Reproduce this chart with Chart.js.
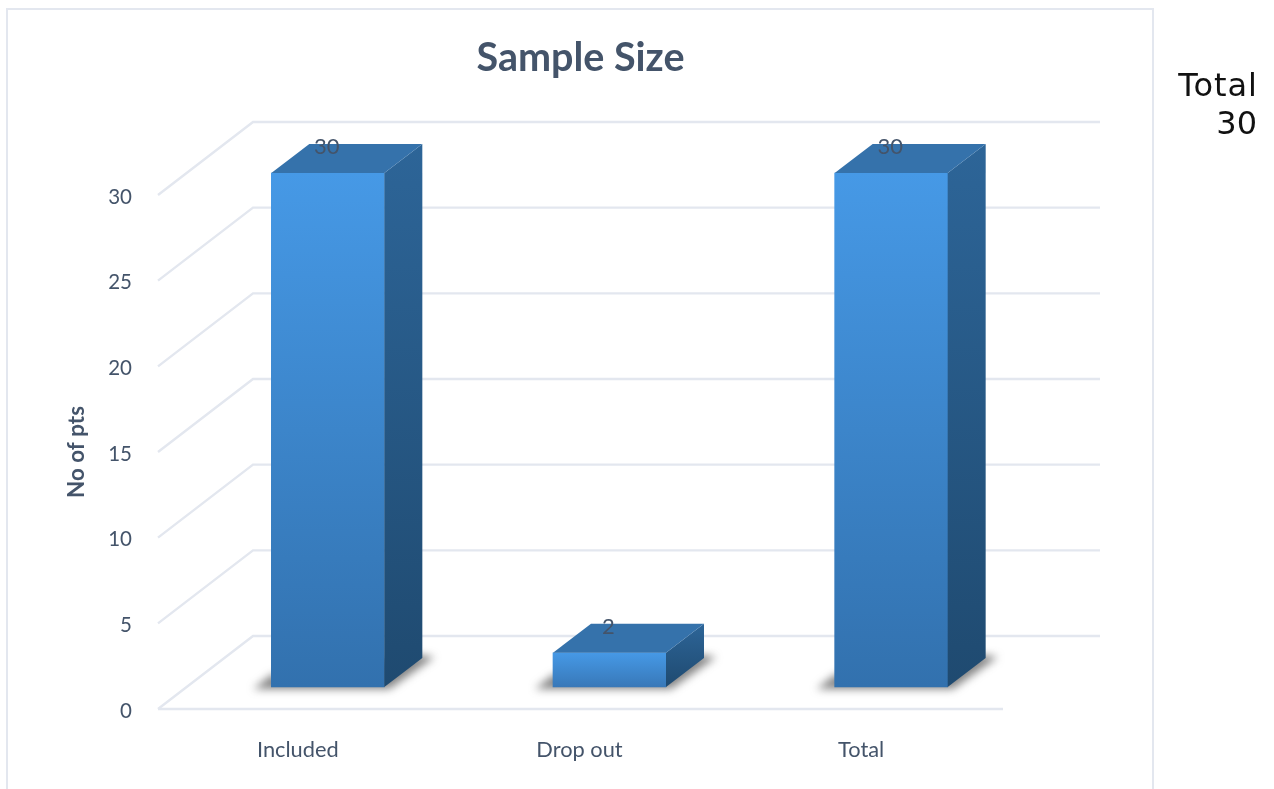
<!DOCTYPE html>
<html>
<head>
<meta charset="utf-8">
<title>Sample Size</title>
<script src="https://cdn.jsdelivr.net/npm/chart.js@4"></script>
<style>
  html, body { margin: 0; background: #fff; overflow: hidden; }
  #frame { position: absolute; left: 6px; top: 8px; width: 1144px; height: 820px; border: 2px solid #e3e7ef; }
  #lineChart { position: absolute; left: 0; top: 0; }
  #note { position: absolute; right: 17px; top: 66px; text-align: right; font: 32px/38px "DejaVu Sans"; color: #111; }
  #note span { letter-spacing: 1px; margin-right: -1px; }
</style>
</head>
<body>
<div id="frame"></div>
<canvas id="lineChart" width="1274" height="789"></canvas>
<div id="note"></div>
<script>
var categories = ['Included', 'Drop out', 'Total'];
var patients = [30, 2, 30];
var noteLabel = 'Total';
var noteTotal = 30;

var textColor = '#44546a';
var gridColor = '#e3e7ef';
var fontName = 'Lato';

// offsets of the fake 3D view
var wallDepth = { x: 95, y: -73 };
var barShift = { x: 29, y: -22 };
var barDepth = { x: 38, y: -29 };

function poly(ctx, pts) {
    ctx.beginPath();
    pts.forEach(function (p, i) {
        if (i === 0) ctx.moveTo(p[0], p[1]); else ctx.lineTo(p[0], p[1]);
    });
    ctx.closePath();
}

function barRect(el) {
    return {
        left: el.x - el.width / 2 + barShift.x,
        right: el.x + el.width / 2 + barShift.x,
        top: el.y + barShift.y,
        bottom: el.base + barShift.y
    };
}

var box3d = {
    id: 'box3d',
    beforeDatasetsDraw: function (chart) {
        var ctx = chart.ctx;
        var y = chart.scales.y;
        var area = chart.chartArea;

        // side wall and back wall grid
        ctx.save();
        ctx.strokeStyle = gridColor;
        ctx.lineWidth = 2.4;
        y.ticks.forEach(function (t) {
            var py = y.getPixelForValue(t.value);
            ctx.beginPath();
            ctx.moveTo(area.left, py);
            ctx.lineTo(area.left + wallDepth.x, py + wallDepth.y);
            ctx.lineTo(area.right + wallDepth.x + 2, py + wallDepth.y);
            ctx.stroke();
        });
        var floor = y.getPixelForValue(0);
        ctx.beginPath();
        ctx.moveTo(area.left, floor);
        ctx.lineTo(area.right, floor);
        ctx.stroke();
        ctx.restore();

        // soft shadows on the floor
        var els = chart.getDatasetMeta(0).data;
        ctx.save();
        ctx.filter = 'blur(4px)';
        ctx.fillStyle = 'rgba(80,80,80,0.7)';
        els.forEach(function (el) {
            var r = barRect(el);
            poly(ctx, [
                [r.left - 18, r.bottom + 2], [r.right + 5, r.bottom + 2],
                [r.right + 50, r.bottom - 30], [r.right + 36, r.bottom - 32],
                [r.left, r.bottom - 12]
            ]);
            ctx.fill();
        });
        ctx.restore();

        // the bars are drawn in a plane set back from the front edge
        ctx.save();
        ctx.translate(barShift.x, barShift.y);
    },
    afterDatasetsDraw: function (chart) {
        var ctx = chart.ctx;
        ctx.restore();

        var els = chart.getDatasetMeta(0).data;
        els.forEach(function (el, i) {
            var r = barRect(el);

            // right side
            var side = ctx.createLinearGradient(0, r.top + barDepth.y, 0, r.bottom);
            side.addColorStop(0, '#2d6598');
            side.addColorStop(1, '#1f4a70');
            ctx.fillStyle = side;
            poly(ctx, [
                [r.right, r.top], [r.right + barDepth.x, r.top + barDepth.y],
                [r.right + barDepth.x, r.bottom + barDepth.y], [r.right, r.bottom]
            ]);
            ctx.fill();

            // top
            ctx.fillStyle = '#3572ab';
            poly(ctx, [
                [r.left, r.top], [r.left + barDepth.x, r.top + barDepth.y],
                [r.right + barDepth.x, r.top + barDepth.y], [r.right, r.top]
            ]);
            ctx.fill();

            // value label
            ctx.fillStyle = textColor;
            ctx.font = '22px ' + fontName;
            ctx.textAlign = 'center';
            ctx.textBaseline = 'middle';
            ctx.fillText(String(patients[i]), (r.left + r.right) / 2 - 1, r.top - 26);
        });
    }
};

// gradient coordinates follow the canvas translate, so no shift is added here
function frontFill(context) {
    var chart = context.chart;
    if (!chart.chartArea) return '#4597e4';
    var y = chart.scales.y;
    var top = y.getPixelForValue(context.raw);
    var bottom = y.getPixelForValue(0);
    var g = chart.ctx.createLinearGradient(0, top, 0, bottom);
    g.addColorStop(0, '#4699e6');
    g.addColorStop(1, context.raw > 5 ? '#3271ae' : '#3878b8');
    return g;
}

var ctx = document.getElementById('lineChart');
document.getElementById('note').innerHTML = '<span>' + noteLabel + '</span><br>' + noteTotal;

var sampleChart = new Chart(ctx, {
    type: 'bar',
    data: {
        labels: categories,
        datasets: [{
            label: 'No of pts',
            data: patients,
            backgroundColor: frontFill,
            barThickness: 113,
            clip: false
        }]
    },
    options: {
        responsive: false,
        animation: false,
        layout: { padding: { left: 0, right: 271, top: 0, bottom: 0 } },
        plugins: {
            legend: { display: false },
            tooltip: { enabled: false },
            title: {
                display: true,
                text: 'Sample Size',
                fullSize: false,
                color: textColor,
                font: { family: fontName, size: 39.5, weight: 'bold' },
                padding: { top: 35, bottom: 112.6 }
            }
        },
        scales: {
            x: {
                grid: { display: false },
                border: { display: false },
                ticks: { color: textColor, padding: 20, labelOffset: -1, font: { family: fontName, size: 21.8 } },
                afterFit: function (scale) { scale.height = 80; }
            },
            y: {
                min: 0,
                max: 30,
                grid: { display: false },
                border: { display: false },
                ticks: { stepSize: 5, color: textColor, padding: 18, labelOffset: 2, font: { family: fontName, size: 20.5 } },
                title: {
                    display: true,
                    text: 'No of pts',
                    color: textColor,
                    font: { family: fontName, size: 22.4, weight: 'bold' },
                    padding: { top: 63, bottom: 0 }
                },
                afterFit: function (scale) { scale.width = 158; }
            }
        }
    },
    plugins: [box3d]
});
</script>
</body>
</html>
